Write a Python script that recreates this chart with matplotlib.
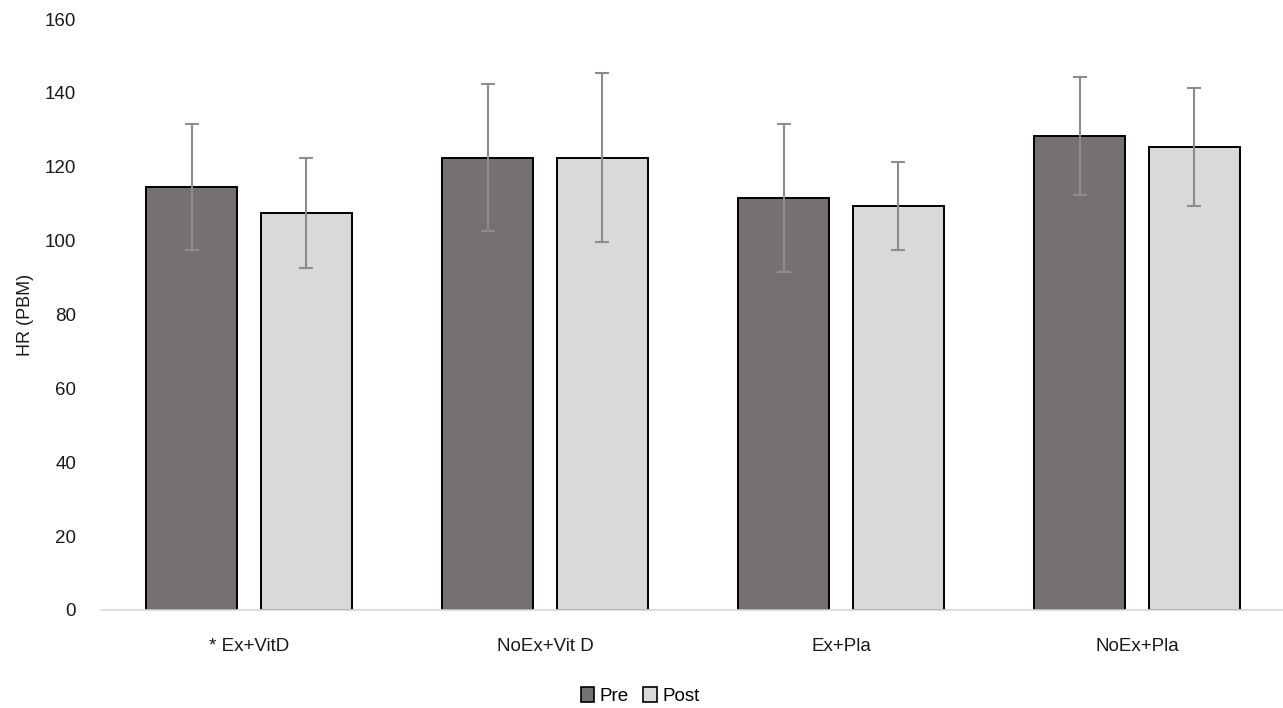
import matplotlib
matplotlib.use("Agg")
import matplotlib.pyplot as plt
import numpy as np

categories = ["* Ex+VitD", "NoEx+Vit D", "Ex+Pla", "NoEx+Pla"]
pre_values = [114.5, 122.5, 111.5, 128.3]
pre_errors = [17.0, 20.0, 20.0, 16.0]
post_values = [107.5, 122.5, 109.4, 125.4]
post_errors = [15.0, 23.0, 12.0, 16.0]
series_labels = ["Pre", "Post"]
yticks = [0, 20, 40, 60, 80, 100, 120, 140, 160]

plt.rcParams['font.family'] = ['Liberation Sans', 'DejaVu Sans']

fig = plt.figure(figsize=(12.83, 7.08), dpi=100)
ax = fig.add_axes([101/1283, 98/708, 1184/1283, 591/708])

x = np.arange(len(categories))
off = 0.1935
w = 0.309
err_kw = dict(ecolor='#8c8c8c', elinewidth=1.5, capsize=5, capthick=1.5)
ax.bar(x - off, pre_values, w, yerr=pre_errors, color='#767171',
       edgecolor='black', linewidth=1.4, label=series_labels[0], error_kw=err_kw)
ax.bar(x + off, post_values, w, yerr=post_errors, color='#d9d9d9',
       edgecolor='black', linewidth=1.4, label=series_labels[1], error_kw=err_kw)

ax.set_xlim(-0.5, 3.5)
ax.set_ylim(0, 160)
ax.set_yticks(yticks)
ax.set_xticks(x)
ax.set_xticklabels(categories)
for s in ['top', 'right', 'left']:
    ax.spines[s].set_visible(False)
ax.spines['bottom'].set_color('#d9d9d9')
ax.spines['bottom'].set_linewidth(1.2)
ax.tick_params(axis='both', length=0, labelsize=13.5, colors='#1a1a1a')
ax.tick_params(axis='y', pad=18)
ax.tick_params(axis='x', pad=20.5)
ax.set_ylabel("HR (PBM)", fontsize=13, color='#1a1a1a', labelpad=8)

leg = fig.legend(loc='center', bbox_to_anchor=(640/1283, 1 - 696/708), ncol=2,
                 frameon=False, fontsize=13.5, handlelength=0.7, handleheight=0.9,
                 handletextpad=0.3, columnspacing=0.8)
for h in leg.legend_handles:
    h.set_linewidth(1.2)

fig.savefig("out.png", dpi=100)
